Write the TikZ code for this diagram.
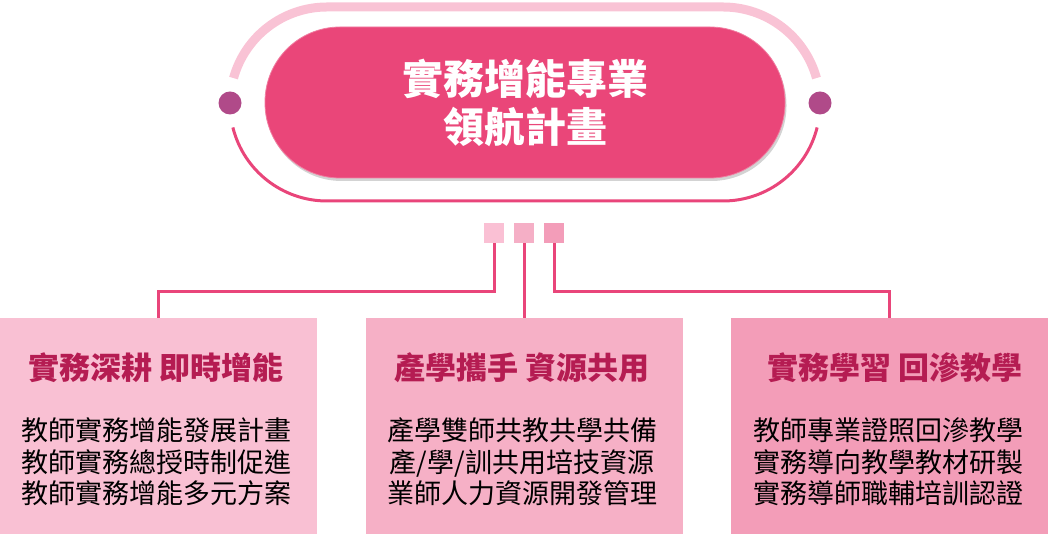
\documentclass[tikz,border=0pt]{standalone}
\usepackage{fontspec}
\newfontfamily\cjk{Noto Sans CJK TC}
\usetikzlibrary{shadows}
\definecolor{pillc}{HTML}{EA4679}
\definecolor{ringlight}{HTML}{F9C3D5}
\definecolor{ringdark}{HTML}{E9457A}
\definecolor{dotc}{HTML}{B04A89}
\definecolor{sqa}{HTML}{FAC0D4}
\definecolor{sqb}{HTML}{F5AFC6}
\definecolor{sqc}{HTML}{F39DB9}
\definecolor{boxa}{HTML}{F9C0D3}
\definecolor{boxb}{HTML}{F6B0C6}
\definecolor{boxc}{HTML}{F39DB8}
\definecolor{titlec}{HTML}{B51C52}
\begin{document}
\begin{tikzpicture}[x=1pt,y=1pt,
  pill/.style={fill=pillc, draw=pillc!70!white, line width=0.8pt, rounded corners=75pt,
    minimum width=520pt, minimum height=151pt, inner sep=0pt, text=white, align=center,
    font=\cjk\bfseries\fontsize{41}{48}\selectfont,
    drop shadow={opacity=0.35, shadow xshift=1.5pt, shadow yshift=-3pt}},
  dot/.style={circle, fill=dotc, minimum size=23pt, inner sep=0pt},
  sq/.style={rectangle, minimum size=20pt, inner sep=0pt},
  conn/.style={draw=ringdark, line width=3pt},
  panel/.style={rectangle, minimum width=317pt, minimum height=216pt, inner sep=0pt, anchor=north},
  ptitle/.style={text=titlec, font=\cjk\bfseries\fontsize{31}{36}\selectfont},
  pbody/.style={text=black, align=center, font=\cjk\fontsize{27}{31.5}\selectfont}
]
\useasboundingbox (0,0) rectangle (1048,534);
% outer ring
\draw[ringlight, line width=9pt] (327,430) ++(164.5:97pt) arc[start angle=164.5, end angle=90, radius=97pt]
  -- (723,527) arc[start angle=90, end angle=15.5, radius=97pt];
\draw[ringdark, line width=3pt] (327,430) ++(194:97pt) arc[start angle=194, end angle=270, radius=97pt]
  -- (723,333) arc[start angle=270, end angle=346, radius=97pt];
\node[dot] (dl) at (230,431) {};
\node[dot] (dr) at (820,431) {};
% main pill
\node[pill] (title) at (525,431.5) {實務增能專業\\領航計畫};
% squares
\node[sq, fill=sqa] (s1) at (494,301) {};
\node[sq, fill=sqb] (s2) at (524,301) {};
\node[sq, fill=sqc] (s3) at (554,301) {};
% panels
\node[panel, fill=boxa] (b1) at (158.5,216) {};
\node[panel, fill=boxb] (b2) at (524,216) {};
\node[panel, fill=boxc] (b3) at (889.5,216) {};
% connectors
\coordinate (j1) at (494,242);
\coordinate (j3) at (554,242);
\draw[conn] (s1.south) -- (j1) -| (b1.north);
\draw[conn] (s2.south) -- (b2.north);
\draw[conn] (s3.south) -- (j3) -| (b3.north);
% panel texts
\node[ptitle] (t1) at (156,166) {實務深耕 即時增能};
\node[ptitle] (t2) at (522,166) {產學攜手 資源共用};
\node[ptitle] (t3) at (895,166) {實務學習 回滲教學};
\node[pbody] (c1) at (156,72) {教師實務增能發展計畫\\教師實務總授時制促進\\教師實務增能多元方案};
\node[pbody] (c2) at (522,72) {產學雙師共教共學共備\\產/學/訓共用培技資源\\業師人力資源開發管理};
\node[pbody] (c3) at (888,72) {教師專業證照回滲教學\\實務導向教學教材研製\\實務導師職輔培訓認證};
\end{tikzpicture}
\end{document}
